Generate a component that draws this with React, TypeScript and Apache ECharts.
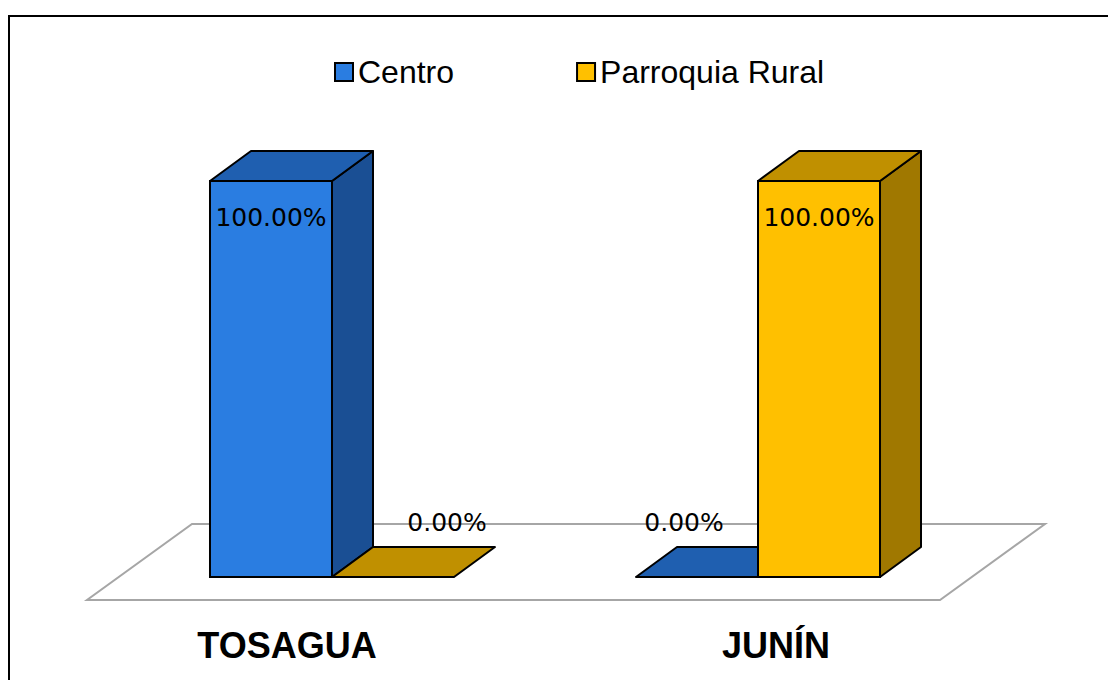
import React, { useEffect, useRef } from "react";
import * as echarts from "echarts";

const categories = ["TOSAGUA", "JUNÍN"];
const seriesNames = ["Centro", "Parroquia Rural"];
const centroValues = [100, 0];
const parroquiaValues = [0, 100];

const palette = [
  { front: "#2A7DE1", top: "#1F5FB0", side: "#1A4F94", zeroDx: -13 },
  { front: "#FFC000", top: "#C09000", side: "#A07800", zeroDx: 54 },
];

const DX = 41;
const DY = -30;

function fmt(v: number) {
  return v.toFixed(2) + "%";
}

function makeBarRender(si: number) {
  return (params: any, api: any) => {
    const ci = api.value(0);
    const v = api.value(1);
    const top = api.coord([ci, v]);
    const base = api.coord([ci, 0]);
    const band = api.size([1, 0])[0];
    const w = band * 0.2864;
    const x0 = base[0] + (si === 0 ? -w : 0);
    const c = palette[si];
    const stroke = { stroke: "#000", lineWidth: 2 };
    const children: any[] = [];
    const ty = top[1];
    const by = base[1];
    const labelFont = "25px 'DejaVu Sans'";
    if (v > 0) {
      children.push({
        type: "rect",
        shape: { x: x0, y: ty, width: w, height: by - ty },
        style: { fill: c.front, ...stroke },
      });
      children.push({
        type: "polygon",
        shape: { points: [[x0 + w, ty], [x0 + w + DX, ty + DY], [x0 + w + DX, by + DY], [x0 + w, by]] },
        style: { fill: c.side, ...stroke, lineJoin: "round" },
      });
      children.push({
        type: "polygon",
        shape: { points: [[x0, ty], [x0 + w, ty], [x0 + w + DX, ty + DY], [x0 + DX, ty + DY]] },
        style: { fill: c.top, ...stroke, lineJoin: "round" },
      });
      children.push({
        type: "text",
        x: x0 + w / 2,
        y: ty + 36,
        style: {
          text: fmt(v),
          fill: "#000",
          font: labelFont,
          align: "center",
          verticalAlign: "middle",
        },
      });
    } else {
      children.push({
        type: "polygon",
        shape: { points: [[x0, by], [x0 + w, by], [x0 + w + DX, by + DY], [x0 + DX, by + DY]] },
        style: { fill: c.top, ...stroke, lineJoin: "round" },
      });
      children.push({
        type: "text",
        x: x0 + w / 2 + c.zeroDx,
        y: by - 55,
        style: {
          text: fmt(v),
          fill: "#000",
          font: labelFont,
          align: "center",
          verticalAlign: "middle",
        },
      });
    }
    return { type: "group", children };
  };
}

function floorRender(params: any) {
  const cs = params.coordSys;
  const fy = cs.y + cs.height + 23;
  const fl = cs.x - 32;
  const fr = cs.x + cs.width - 31;
  const ddx = 105;
  const ddy = -76;
  return {
    type: "polygon",
    shape: { points: [[fl, fy], [fr, fy], [fr + ddx, fy + ddy], [fl + ddx, fy + ddy]] },
    style: { fill: "#FFFFFF", stroke: "#A6A6A6", lineWidth: 2 },
  };
}

export default function App() {
  const ref = useRef<HTMLDivElement>(null);
  useEffect(() => {
    if (!ref.current) return;
    const chart = echarts.init(ref.current, null, { renderer: "svg" });
    chart.setOption({
      animation: false,
      backgroundColor: "#FFFFFF",
      graphic: [
        {
          type: "rect",
          shape: { x: 9, y: 16, width: 1120, height: 700 },
          style: { fill: "none", stroke: "#000", lineWidth: 2 },
          z: 100,
        },
      ],
      legend: {
        left: 329,
        top: 50,
        itemWidth: 18,
        itemHeight: 18,
        itemGap: 122,
        icon: "rect",
        textStyle: { fontFamily: "'Liberation Sans', Arial", fontSize: 32, color: "#000", lineHeight: 34 },
        data: [
          { name: seriesNames[0], itemStyle: { color: palette[0].front, borderColor: "#000", borderWidth: 2 } },
          { name: seriesNames[1], itemStyle: { color: palette[1].front, borderColor: "#000", borderWidth: 2 } },
        ],
      },
      grid: { left: 119, right: 137, top: 181, bottom: 103 },
      xAxis: {
        type: "category",
        data: categories,
        axisLine: { show: false },
        axisTick: { show: false },
        splitLine: { show: false },
        axisLabel: {
          margin: 48,
          formatter: (v: string) => (v === categories[0] ? "{l|" + v + "}" : "{r|" + v + "}"),
          rich: {
            l: { fontFamily: "'Liberation Sans', Arial", fontWeight: "bold", fontSize: 36, color: "#000", lineHeight: 40, padding: [0, 90, 0, 0] },
            r: { fontFamily: "'Liberation Sans', Arial", fontWeight: "bold", fontSize: 36, color: "#000", lineHeight: 40, padding: [0, 0, 0, 36] },
          },
        },
      },
      yAxis: { type: "value", min: 0, max: 100, show: false, splitLine: { show: false } },
      series: [
        {
          name: "floor",
          type: "custom",
          renderItem: floorRender,
          data: [[0, 0]],
          z: 1,
          silent: true,
        },
        {
          name: seriesNames[0],
          type: "custom",
          renderItem: makeBarRender(0),
          itemStyle: { color: palette[0].front },
          data: categories.map((_, i) => [i, centroValues[i]]),
          z: 2,
        },
        {
          name: seriesNames[1],
          type: "custom",
          renderItem: makeBarRender(1),
          itemStyle: { color: palette[1].front },
          data: categories.map((_, i) => [i, parroquiaValues[i]]),
          z: 3,
        },
      ],
    });
    return () => chart.dispose();
  }, []);
  return <div ref={ref} style={{ position: "fixed", left: 0, top: 0, width: 1108, height: 680 }} />;
}
